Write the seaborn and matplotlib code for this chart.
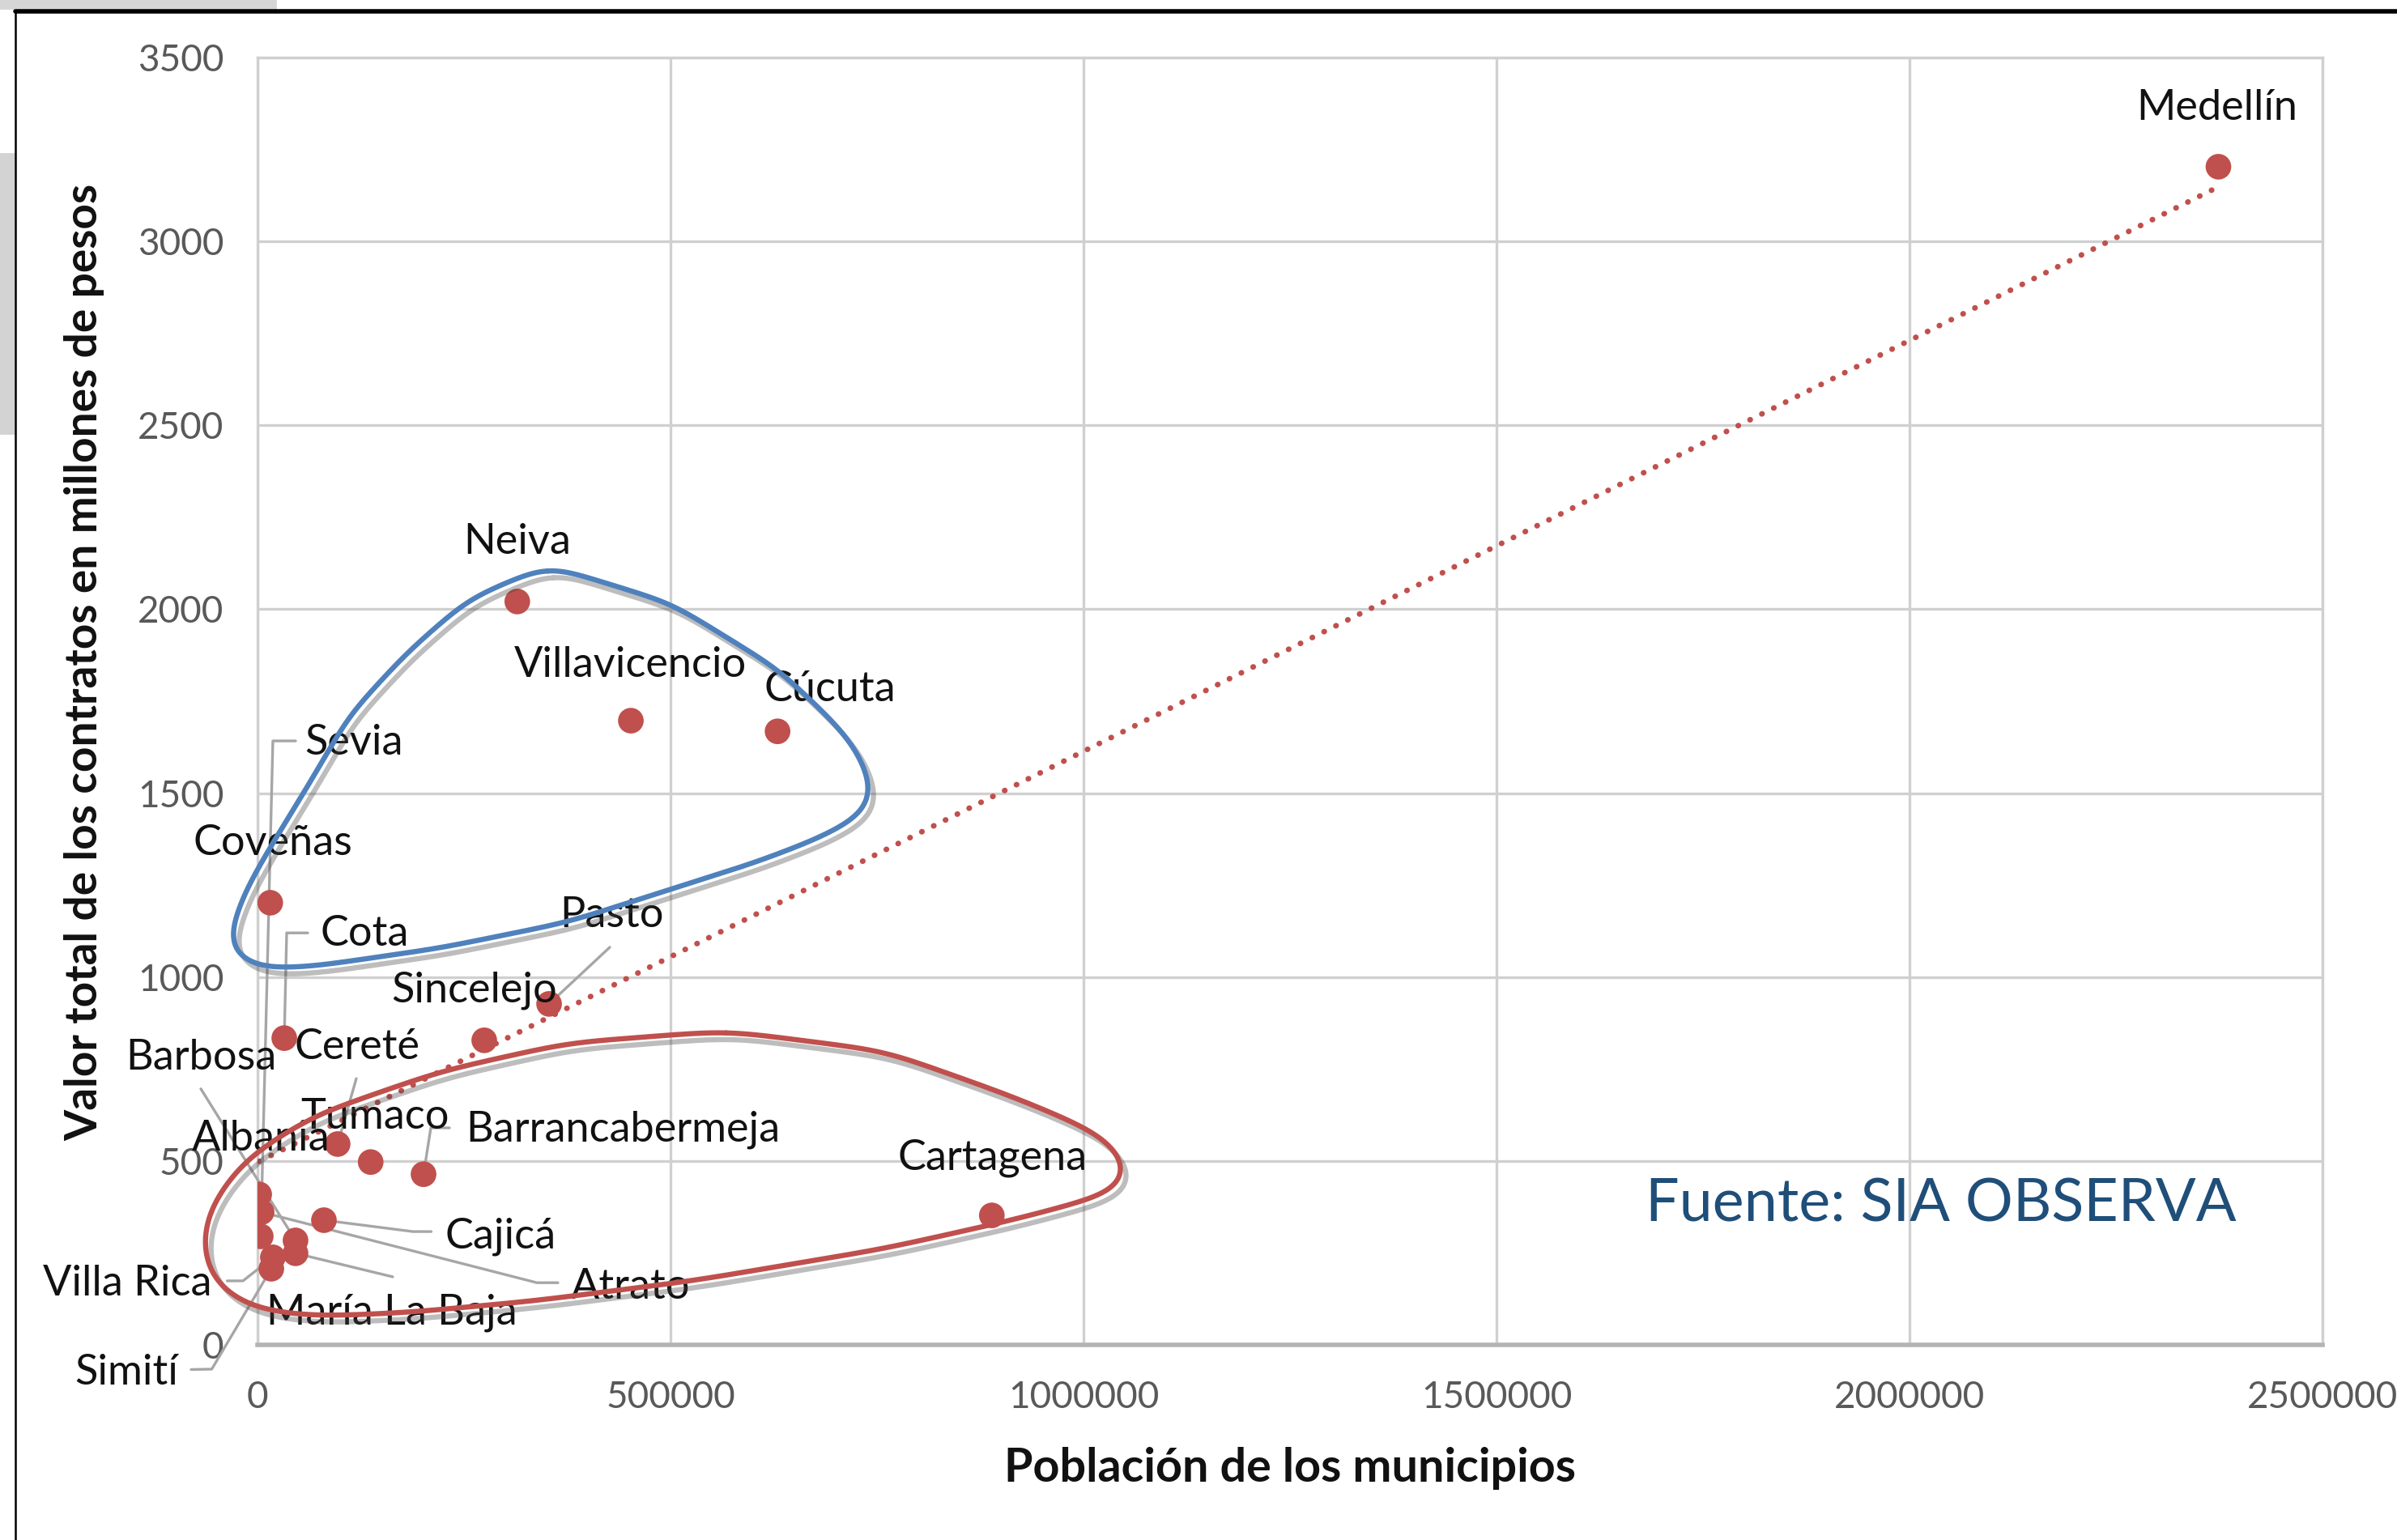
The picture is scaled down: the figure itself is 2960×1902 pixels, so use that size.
"""
Población vs. valor de contratos por municipio (scatter + tendencia lineal)
"""
import numpy as np
import matplotlib
matplotlib.use('Agg')
import matplotlib.pyplot as plt
import matplotlib.patheffects as pe
from matplotlib.patches import Rectangle
import seaborn as sns

# ---------------- datos ----------------
municipios = ['Medellín', 'Neiva', 'Villavicencio', 'Cúcuta', 'Sevia', 'Coveñas',
              'Cota', 'Pasto', 'Sincelejo', 'Barbosa', 'Cereté', 'Tumaco', 'Albania',
              'Barrancabermeja', 'Cartagena', 'Cajicá', 'Atrato', 'Villa Rica',
              'María La Baja', 'Simití']
poblacion = [2374000, 314500, 452000, 629600, 3900, 15400,
             32400, 353000, 274500, 46000, 97000, 137000, 2000,
             201000, 889000, 80400, 4900, 18600,
             46000, 16700]
valor = [3203, 2021, 1697, 1668, 295, 1202,
         834, 927, 828, 284, 546, 497, 409,
         464, 352, 339, 361, 238,
         249, 207]

# posición (centro) de cada etiqueta, en unidades de los ejes
label_x = [2372000, 314300, 451200, 693400, 116500, 18500,
           129400, 429000, 262600, -68400, 120200, 142400, 3700,
           442000, 889400, 294000, 451200, -157200,
           162700, -159000]
label_y = [3362, 2182, 1849, 1783, 1637, 1363,
           1118, 1168, 964, 781, 810, 619, 561,
           586, 507, 295, 158, 166,
           87, -75]

# líneas guía: puntos de arranque desde la etiqueta (luego van al punto)
guias = {
    'Sevia': [(46100, 1642), (18600, 1642)],
    'Cota': [(60800, 1120), (35300, 1120)],
    'Pasto': [(426500, 1081)],
    'Barbosa': [(-68600, 696)],
    'Cereté': [(119600, 724)],
    'Barrancabermeja': [(232400, 590), (209800, 590)],
    'Cajicá': [(210300, 308), (188200, 308)],
    'Atrato': [(363700, 169), (338200, 169)],
    'Villa Rica': [(-36700, 174), (-17600, 174)],
    'María La Baja': [(163700, 185)],
    'Simití': [(-80400, -67), (-55400, -66)],
}

# contornos resaltados (anotación manual del original)
azul_x = [351300, 255200, 181200, 110900, 67600, 13700, -17100, -32400, -38600,
          -24500, -9400, 13700, 67600, 221300, 375100, 498000, 605900, 682400,
          736300, 748000, 728400, 705900, 630500, 501100]
azul_y = [2120, 2028, 1883, 1712, 1544, 1347, 1226, 1127, 1084,
          1051, 1029, 1023, 1029, 1079, 1149, 1237, 1314, 1380,
          1445, 1500, 1609, 1675, 1837, 2016]
rojo_x = [567400, 375100, 221300, 67500, -17100, -63200, -69600, -55500, -9400,
          67600, 182800, 336300, 528900, 759500, 913300, 1005600, 1051800,
          1059400, 1044100, 1005900, 913300, 759500]
rojo_y = [854, 821, 744, 624, 504, 361, 251, 164, 98,
          77, 88, 120, 175, 262, 339, 394, 427,
          471, 537, 589, 676, 799]

ROJO = '#C0504D'
AZUL = '#4F81BD'
GRIS_TXT = '#595959'
GRIS_GRID = '#d0d0d0'

XMAX, YMAX = 2500000, 3500


def smooth_loop(xs, ys, sigma=17.0, n=800):
    """Contorno cerrado suavizado (filtro gaussiano en Fourier sobre el polígono)"""
    # escala aproximada a píxeles para medir longitudes de forma pareja
    px = np.append(xs, xs[0]) / XMAX * 2550.0
    py = np.append(ys, ys[0]) / YMAX * 1590.0
    seg = np.hypot(np.diff(px), np.diff(py))
    s = np.concatenate([[0], np.cumsum(seg)])
    su = np.linspace(0, s[-1], n, endpoint=False)
    z = np.interp(su, s, px) + 1j * np.interp(su, s, py)
    f = np.fft.fft(z)
    k = np.fft.fftfreq(n, d=1.0 / n)
    f *= np.exp(-(k / sigma) ** 2)
    zs = np.fft.ifft(f)
    zs = np.append(zs, zs[0])
    return zs.real / 2550.0 * XMAX, zs.imag / 1590.0 * YMAX


sns.set_theme(style='whitegrid')
plt.rcParams['font.family'] = ['Lato', 'DejaVu Sans']

fig = plt.figure(figsize=(14.8, 9.51), dpi=200)
ax = fig.add_axes([318 / 2960, 1 - 1661 / 1902, 2550 / 2960, 1590 / 1902])
ax.set_facecolor('white')

# tendencia lineal punteada
sns.regplot(x=poblacion, y=valor, ax=ax, scatter=False, ci=None, truncate=True,
            line_kws=dict(color=ROJO, lw=2.5, ls=(0, (0.05, 2.3)),
                          dash_capstyle='round', zorder=3))

# puntos
sns.scatterplot(x=poblacion, y=valor, ax=ax, color=ROJO, s=130,
                edgecolor='none', linewidth=0, zorder=4, legend=False)

# etiquetas y líneas guía
idx = {m: i for i, m in enumerate(municipios)}
for name, anchors in guias.items():
    i = idx[name]
    gx = [a[0] for a in anchors] + [poblacion[i]]
    gy = [a[1] for a in anchors] + [valor[i]]
    ax.plot(gx, gy, color='#a6a6a6', lw=1.2, zorder=3.5, clip_on=False)

for name, lx, ly in zip(municipios, label_x, label_y):
    ax.text(lx, ly, name, ha='center', va='center', fontsize=18.8,
            color='#111111', zorder=5, clip_on=False)

# contornos con sombra
sombra = [pe.SimpleLineShadow(offset=(2.5, -3), shadow_color='#444444', alpha=0.35),
          pe.Normal()]
for cx, cy, col in [(azul_x, azul_y, AZUL), (rojo_x, rojo_y, ROJO)]:
    sx, sy = smooth_loop(np.array(cx, float), np.array(cy, float))
    ax.plot(sx, sy, color=col, lw=2.3, zorder=6, clip_on=False,
            path_effects=sombra, solid_capstyle='round')

# ejes
ax.set_xlim(0, XMAX)
ax.set_ylim(0, YMAX)
xt = list(range(0, XMAX + 1, 500000))
yt = list(range(0, YMAX + 1, 500))
ax.set_xticks(xt)
ax.set_yticks(yt)
ax.set_xticklabels([str(v) for v in xt])
ax.set_yticklabels([str(v) for v in yt])
ax.tick_params(axis='both', length=0, labelsize=16.5, labelcolor=GRIS_TXT)
ax.tick_params(axis='y', pad=15)
ax.tick_params(axis='x', pad=16)
ax.grid(True, color=GRIS_GRID, lw=1.2)
for side, sp in ax.spines.items():
    sp.set_visible(True)
    sp.set_color(GRIS_GRID)
    sp.set_linewidth(1.2)
ax.spines['bottom'].set_color('#b4b4b4')
ax.spines['bottom'].set_linewidth(2.0)
ax.set_xlabel('')
ax.set_ylabel('')

fig.text(1593 / 2960, 1 - 1814 / 1902, 'Población de los municipios',
         ha='center', va='center', fontsize=20.7, fontweight='bold', color='#111111')
fig.text(104 / 2960, 1 - 818 / 1902, 'Valor total de los contratos en millones de pesos',
         ha='center', va='center', rotation=90, fontsize=19.8, fontweight='bold',
         color='#111111')
fig.text(2397 / 2960, 1 - 1488 / 1902, 'Fuente: SIA OBSERVA',
         ha='center', va='center', fontsize=26.5, color='#1F4E79')

# marco de la captura
fig.patches.append(Rectangle((0, 1 - 10 / 1902), 340 / 2960, 10 / 1902,
                             transform=fig.transFigure, color='#d6d6d6', zorder=0))
fig.patches.append(Rectangle((0, 1 - 535 / 1902), 17 / 2960, 345 / 1902,
                             transform=fig.transFigure, color='#d3d3d3', zorder=0))
fig.add_artist(plt.Line2D([19 / 2960, 1], [1 - 14 / 1902, 1 - 14 / 1902],
                          transform=fig.transFigure, color='black', lw=2.0))
fig.add_artist(plt.Line2D([19 / 2960, 19 / 2960], [0, 1 - 14 / 1902],
                          transform=fig.transFigure, color='black', lw=0.9))

fig.savefig('out.png', dpi=200, facecolor='white')
plt.close(fig)
